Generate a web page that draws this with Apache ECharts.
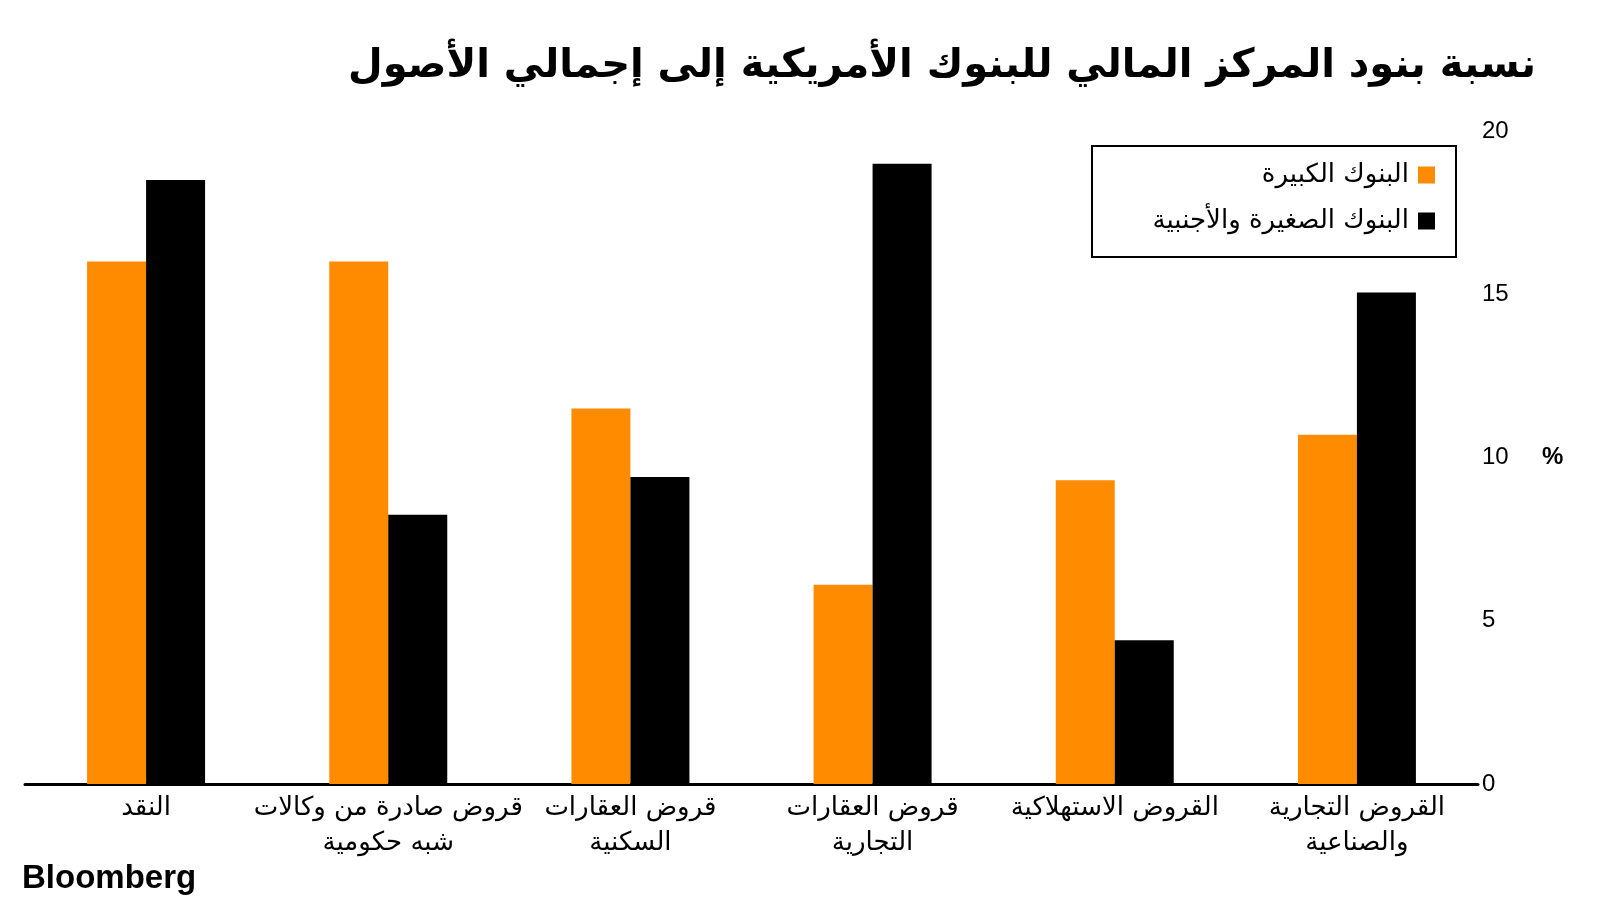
<!DOCTYPE html>
<html>
<head>
<meta charset="utf-8">
<script src="https://cdn.jsdelivr.net/npm/echarts@6/dist/echarts.min.js"></script>
<style>html,body{margin:0;padding:0;background:#fff}#c{width:1600px;height:900px}</style>
</head>
<body>
<div id="c"></div>
<script>
const titleText = 'نسبة بنود المركز المالي للبنوك الأمريكية إلى إجمالي الأصول';
const categories = [
  'النقد',
  'قروض صادرة من وكالات\nشبه حكومية',
  'قروض العقارات\nالسكنية',
  'قروض العقارات\nالتجارية',
  'القروض الاستهلاكية',
  'القروض التجارية\nوالصناعية'
];
const seriesNames = ['البنوك الكبيرة', 'البنوك الصغيرة والأجنبية'];
const largeBanks = [16.0, 16.0, 11.5, 6.1, 9.3, 10.7];
const smallForeignBanks = [18.5, 8.25, 9.4, 19.0, 4.4, 15.05];
const yTicks = [0, 5, 10, 15, 20];
const unitLabel = '%';
const sourceText = 'Bloomberg';

const arFont = '"DejaVu Sans", "Noto Sans", sans-serif';
const numFont = '"Liberation Sans", Arial, sans-serif';

const chart = echarts.init(document.getElementById('c'), null, {renderer: 'canvas'});
chart.setOption({
  backgroundColor: '#ffffff',
  animation: false,
  title: {
    text: titleText,
    right: 59,
    top: 42,
    textStyle: {fontFamily: arFont, fontWeight: 'bold', fontSize: 40, color: '#000'}
  },
  legend: {
    orient: 'vertical',
    right: 160,
    top: 157,
    align: 'right',
    itemWidth: 17,
    itemHeight: 17,
    itemGap: 20,
    icon: 'rect',
    textStyle: {fontFamily: arFont, fontSize: 26, color: '#000', padding: [0, 4, 0, 0]},
    data: seriesNames
  },
  graphic: [{
    type: 'rect',
    shape: {x: 1092, y: 146, width: 364, height: 111},
    style: {fill: 'none', stroke: '#000', lineWidth: 2}
  }, {
    type: 'text',
    left: 22,
    top: 862,
    style: {text: sourceText, font: 'bold 33px "Liberation Sans", Arial, sans-serif', fill: '#000'}
  }],
  grid: {left: 25, right: 122, top: 131, bottom: 116, containLabel: false},
  xAxis: {
    type: 'category',
    data: categories,
    axisLine: {show: true, lineStyle: {color: '#000', width: 3}},
    axisTick: {show: false},
    axisLabel: {interval: 0, fontFamily: arFont, fontSize: 26, lineHeight: 35, color: '#000', margin: 7, align: 'center'}
  },
  yAxis: {
    type: 'value',
    position: 'right',
    min: yTicks[0],
    max: yTicks[yTicks.length - 1],
    interval: 5,
    name: unitLabel,
    nameLocation: 'middle',
    nameRotate: 0,
    nameGap: 64,
    nameTextStyle: {fontFamily: numFont, fontWeight: 'bold', fontSize: 24, color: '#000'},
    axisLine: {show: false},
    axisTick: {show: false},
    splitLine: {show: false},
    axisLabel: {fontFamily: numFont, fontSize: 24, color: '#000', margin: 4}
  },
  series: [{
    name: seriesNames[0],
    type: 'bar',
    data: largeBanks,
    barWidth: 59,
    barGap: '0%',
    itemStyle: {color: '#FF8C00'}
  }, {
    name: seriesNames[1],
    type: 'bar',
    data: smallForeignBanks,
    barWidth: 59,
    barGap: '0%',
    itemStyle: {color: '#000000'}
  }]
});
</script>
</body>
</html>
